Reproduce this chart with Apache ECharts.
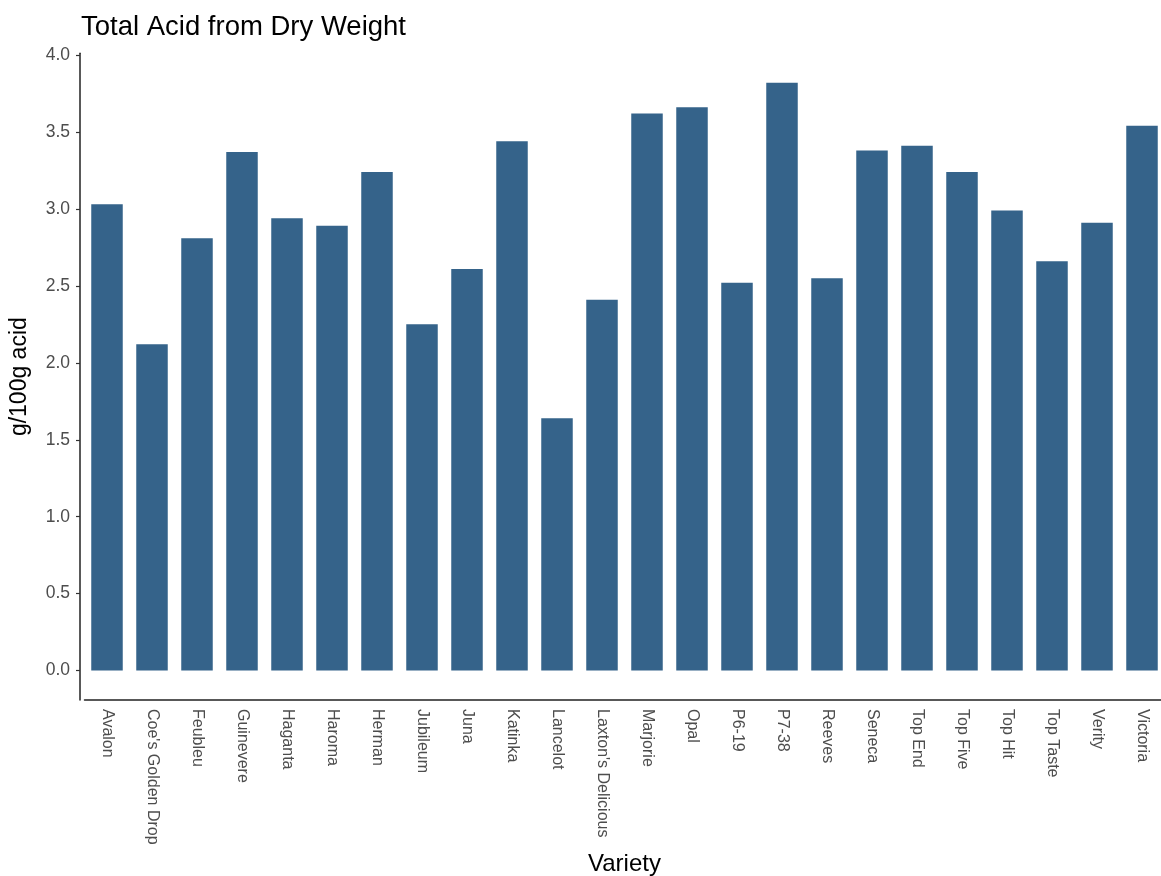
<!DOCTYPE html>
<html>
<head>
<meta charset="utf-8">
<script src="https://cdn.jsdelivr.net/npm/echarts@6/dist/echarts.min.js"></script>
<style>
html,body{margin:0;padding:0;background:#fff;}
#chart{width:1161px;height:876px;}
</style>
</head>
<body>
<div id="chart"></div>
<script>
const categories = ["Avalon","Coe's Golden Drop","Feubleu","Guinevere","Haganta","Haroma","Herman","Jubileum","Juna","Katinka","Lancelot","Laxton's Delicious","Marjorie","Opal","P6-19","P7-38","Reeves","Seneca","Top End","Top Five","Top Hit","Top Taste","Verity","Victoria"];
const acidValues = [3.03,2.12,2.81,3.37,2.94,2.89,3.24,2.25,2.61,3.44,1.64,2.41,3.62,3.66,2.52,3.82,2.55,3.38,3.41,3.24,2.99,2.66,2.91,3.54];
const yTickMin = 0;
const yTickMax = 4.0;
const yTickStep = 0.5;
const yMin = -0.191;
const yMax = 4.011;

const FONT = '"Liberation Sans", Arial, sans-serif';
const chart = echarts.init(document.getElementById('chart'), null, {renderer:'canvas'});

// panel geometry
const panelTop = 53.3, panelBottom = 700, H = 876;
const toPix = v => panelBottom - (v - yMin) / (yMax - yMin) * (panelBottom - panelTop);

chart.setOption({
  animation:false,
  backgroundColor:'#ffffff',
  title:{
    text:'Total Acid from Dry Weight',
    left:81, top:13, padding:0,
    textStyle:{fontFamily:FONT,fontSize:27.5,fontWeight:'normal',color:'#000'}
  },
  grid:[
    {left:84.5, right:-3.5, top:panelTop, bottom:H - panelBottom, containLabel:false, outerBoundsMode:'none'},
    {left:84.5, right:-3.5, top:toPix(yTickMax), bottom:H - toPix(yTickMin), containLabel:false, outerBoundsMode:'none'}
  ],
  xAxis:[{
    type:'category',
    gridIndex:0,
    data:categories,
    boundaryGap:true,
    name:'Variety',
    nameLocation:'middle',
    nameGap:146,
    nameTextStyle:{fontFamily:FONT,fontSize:24,color:'#000'},
    axisLine:{onZero:false,lineStyle:{color:'#222',width:1.5}},
    axisTick:{alignWithLabel:true,length:4,lineStyle:{color:'#333',width:1.2}},
    axisLabel:{rotate:-90,margin:9,fontFamily:FONT,fontSize:16,color:'#4d4d4d',interval:0},
    splitLine:{show:false}
  },{
    type:'category',
    gridIndex:1,
    data:categories,
    show:false
  }],
  yAxis:[{
    type:'value',
    gridIndex:0,
    min:yMin, max:yMax,
    offset:4.5,
    name:'g/100g acid',
    nameLocation:'middle',
    nameGap:49,
    nameRotate:90,
    nameTextStyle:{fontFamily:FONT,fontSize:23,color:'#000'},
    axisLine:{show:true,lineStyle:{color:'#222',width:1.5}},
    axisTick:{show:false},
    axisLabel:{show:false},
    splitLine:{show:false}
  },{
    type:'value',
    gridIndex:1,
    min:yTickMin, max:yTickMax, interval:yTickStep,
    offset:4.5,
    axisLine:{show:false},
    axisTick:{show:true,length:4,lineStyle:{color:'#333',width:1.2}},
    axisLabel:{margin:10,fontFamily:FONT,fontSize:17.5,color:'#4d4d4d',
      formatter:v=>Number(v).toFixed(1)},
    splitLine:{show:false}
  }],
  series:[{
    type:'bar',
    xAxisIndex:0,
    yAxisIndex:0,
    data:acidValues,
    barWidth:'70%',
    itemStyle:{color:'#35638a'}
  }]
});
</script>
</body>
</html>
